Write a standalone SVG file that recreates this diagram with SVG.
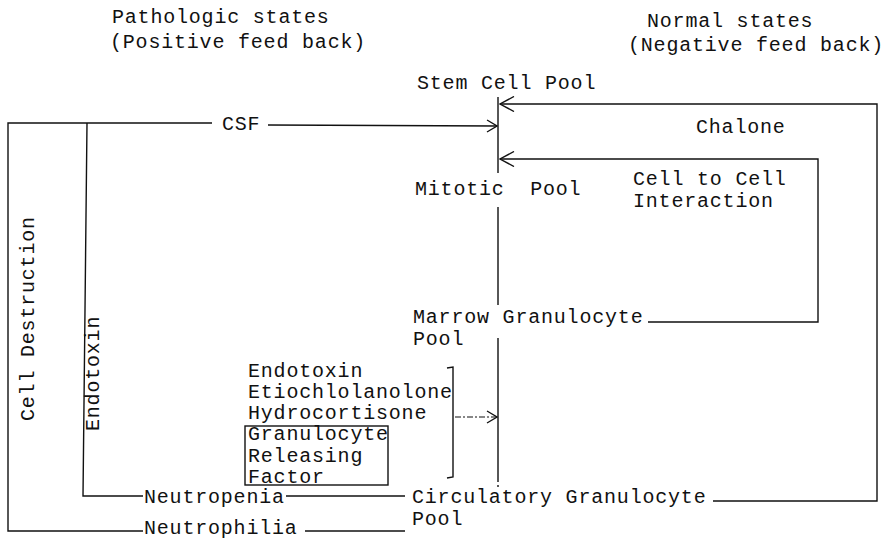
<svg xmlns="http://www.w3.org/2000/svg" width="884" height="539" viewBox="0 0 884 539">
<style>
text{font-family:"Liberation Mono","DejaVu Sans Mono",monospace;font-size:20px;letter-spacing:0.8px;fill:#111}
.ln{fill:none;stroke:#111;stroke-width:1.4}
.dash{fill:none;stroke:#111;stroke-width:1.2;stroke-dasharray:6,2,2,2}
</style>
<defs>
<marker id="arr" viewBox="0 0 16 16" refX="15" refY="8" markerWidth="16" markerHeight="16" orient="auto" markerUnits="userSpaceOnUse">
<path d="M1,0.5 L15,8 L1,15.5" fill="none" stroke="#111" stroke-width="1.4"/>
</marker>
<marker id="arrS" viewBox="0 0 12 14" refX="11" refY="7" markerWidth="12" markerHeight="14" orient="auto" markerUnits="userSpaceOnUse">
<path d="M1,1 L11,7 L1,13" fill="none" stroke="#111" stroke-width="1.3"/>
</marker>
</defs>

<g id="headers">
<text x="112" y="23">Pathologic states</text>
<text x="110" y="48">(Positive feed back)</text>
<text x="647" y="27">Normal states</text>
<text x="628" y="51" letter-spacing="0.3">(Negative feed back)</text>
</g>

<g id="connectors">
<path class="ln" d="M498,97 L498,173 M498,207 L498,305 M498,338 L498,480"/>
<path class="ln" d="M498,480 L498,490" stroke-dasharray="2,3"/>
<path class="ln" d="M713,501 L877,501 L877,104 L500,104" marker-end="url(#arr)"/>
<path class="ln" d="M648,322 L818,322 L818,159 L500,159" marker-end="url(#arr)"/>
<path class="ln" d="M143,531 L8,531 L8,123 L212,123"/>
<path class="ln" d="M268,125 L497,126" marker-end="url(#arrS)"/>
<path class="ln" d="M143,496 L83,496 L87,123"/>
<path class="ln" d="M286,496 L405,496"/>
<path class="ln" d="M305,531 L405,531"/>
<path class="ln" d="M447,368 L453,367 L453,477 L447,478"/>
<path class="dash" d="M455,417 L497,417" marker-end="url(#arrS)"/>
</g>

<g id="stem-cell-pool"><text x="417" y="89">Stem Cell Pool</text></g>
<g id="csf"><text x="222" y="130">CSF</text></g>
<g id="chalone"><text x="696" y="133">Chalone</text></g>
<g id="mitotic-pool"><text x="415" y="195" xml:space="preserve">Mitotic  Pool</text></g>
<g id="cell-to-cell"><text x="633" y="185">Cell to Cell</text><text x="633" y="207">Interaction</text></g>
<g id="marrow-pool"><text x="413" y="323">Marrow Granulocyte</text><text x="413" y="345">Pool</text></g>
<g id="releasers">
<text x="248" y="377">Endotoxin</text>
<text x="248" y="398">Etiochlolanolone</text>
<text x="248" y="419">Hydrocortisone</text>
<rect x="245" y="426" width="143" height="59" class="ln"/>
<text x="248" y="440">Granulocyte</text>
<text x="248" y="462">Releasing</text>
<text x="248" y="483">Factor</text>
</g>
<g id="circulatory-pool"><text x="412" y="503">Circulatory Granulocyte</text><text x="412" y="525">Pool</text></g>
<g id="neutropenia"><text x="144" y="503">Neutropenia</text></g>
<g id="neutrophilia"><text x="144" y="534">Neutrophilia</text></g>
<g id="endotoxin-v"><text transform="translate(99,431) rotate(-90)">Endotoxin</text></g>
<g id="cell-destruction"><text transform="translate(34,421) rotate(-90)" letter-spacing="0">Cell Destruction</text></g>
</svg>
